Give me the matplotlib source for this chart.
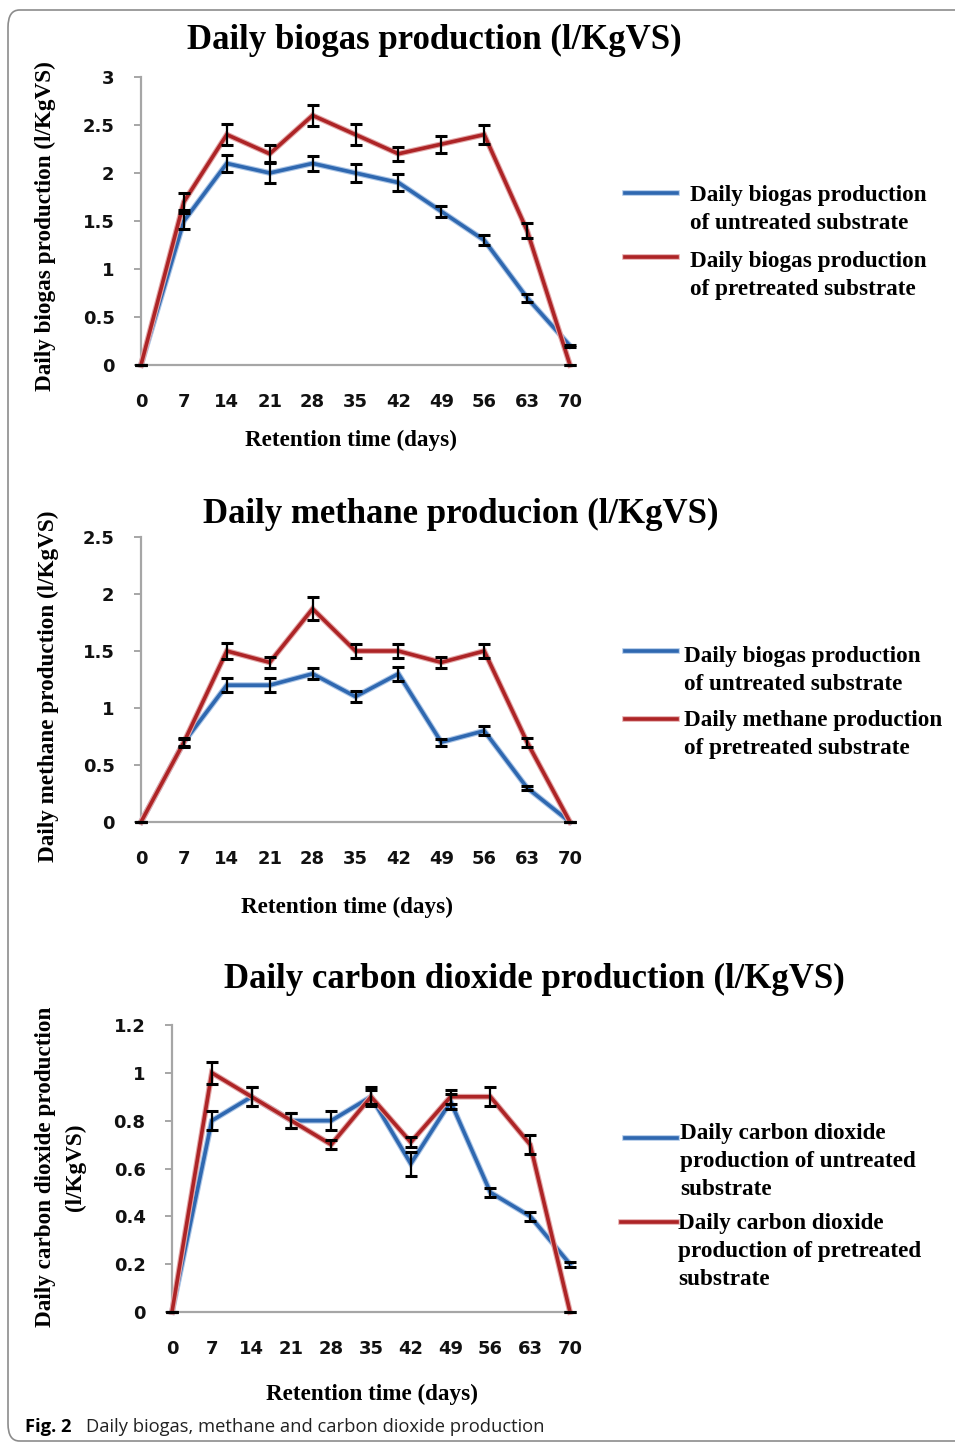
import matplotlib
matplotlib.use("Agg")
import matplotlib.pyplot as plt
import matplotlib.patheffects as pe
from matplotlib.lines import Line2D
from matplotlib.patches import FancyBboxPatch

# retention time (days)
days = [0, 7, 14, 21, 28, 35, 42, 49, 56, 63, 70]

# daily biogas (l/KgVS)
biogas_untreated = [0, 1.5, 2.1, 2.0, 2.1, 2.0, 1.9, 1.6, 1.3, 0.7, 0.2]
biogas_untreated_err = [0, 0.08, 0.09, 0.1, 0.08, 0.09, 0.09, 0.06, 0.05, 0.04, 0.01]
biogas_pretreated = [0, 1.7, 2.4, 2.2, 2.6, 2.4, 2.2, 2.3, 2.4, 1.4, 0]
biogas_pretreated_err = [0, 0.09, 0.11, 0.09, 0.11, 0.11, 0.07, 0.09, 0.1, 0.08, 0]

# daily methane (l/KgVS)
methane_untreated = [0, 0.7, 1.2, 1.2, 1.3, 1.1, 1.3, 0.7, 0.8, 0.3, 0]
methane_untreated_err = [0, 0.04, 0.06, 0.06, 0.05, 0.05, 0.06, 0.03, 0.04, 0.02, 0]
methane_pretreated = [0, 0.7, 1.5, 1.4, 1.87, 1.5, 1.5, 1.4, 1.5, 0.7, 0]
methane_pretreated_err = [0, 0.03, 0.07, 0.05, 0.1, 0.06, 0.06, 0.05, 0.06, 0.04, 0]

# daily carbon dioxide (l/KgVS)
co2_untreated = [0, 0.8, 0.9, 0.8, 0.8, 0.9, 0.62, 0.88, 0.5, 0.4, 0.2]
co2_untreated_err = [0, 0.04, 0.04, 0.03, 0.04, 0.03, 0.05, 0.03, 0.02, 0.02, 0.01]
co2_pretreated = [0, 1.0, 0.9, 0.8, 0.7, 0.9, 0.71, 0.9, 0.9, 0.7, 0]
co2_pretreated_err = [0, 0.045, 0.04, 0.03, 0.02, 0.04, 0.02, 0.03, 0.04, 0.04, 0]

BLUE = "#2f68b0"
BLUE_GLOW = "#a9c4e6"
RED = "#ad2426"
RED_GLOW = "#e3a7a8"
AXIS_GREY = "#a6a6a6"
SERIF = "Liberation Serif"
TICKFONT = "DejaVu Sans"
LABEL_SIZE = 16.7

W, H = 955, 1445
fig = plt.figure(figsize=(W / 100, H / 100), dpi=100)


def fx(px):
    return px / W


def fy(py):
    return 1 - py / H


def panel(rect_px, ymax, ystep, series, title, title_x, title_y,
          ylabel_lines, xlabel_x, xlabel_y, legend):
    left, top, right, bottom = rect_px
    ax = fig.add_axes([fx(left), fy(bottom), fx(right - left), (bottom - top) / H])
    for vals, errs, col, glow in series:
        ax.plot(days, vals, color=col, lw=2.6, solid_joinstyle="miter",
                path_effects=[pe.Stroke(linewidth=4.2, foreground=glow), pe.Normal()],
                zorder=2)
    for vals, errs, col, glow in series:
        ax.errorbar(days, vals, yerr=errs, fmt="none", ecolor="black",
                    elinewidth=1.6, capsize=4, capthick=2.2, zorder=3)
    ax.set_xlim(0, 70)
    ax.set_ylim(0, ymax)
    ax.set_xticks(days)
    ax.set_xticklabels([str(d) for d in days])
    nt = int(round(ymax / ystep))
    yt = [i * ystep for i in range(nt + 1)]
    ax.set_yticks(yt)
    ax.set_yticklabels(["0" if v == 0 else "%g" % round(v, 1) for v in yt])
    for s in ("top", "right"):
        ax.spines[s].set_visible(False)
    for s in ("left", "bottom"):
        ax.spines[s].set_color(AXIS_GREY)
        ax.spines[s].set_linewidth(1.6)
    ax.spines["left"].set_zorder(1)
    ax.tick_params(axis="y", length=5, width=1.4, color=AXIS_GREY, pad=14)
    ax.tick_params(axis="x", length=0, pad=20)
    for lab in ax.get_xticklabels() + ax.get_yticklabels():
        lab.set_fontfamily(TICKFONT)
        lab.set_fontweight("bold")
        lab.set_fontsize(13)
        lab.set_color("#111111")
    ax.patch.set_alpha(0)
    for p in ax.lines:
        p.set_clip_on(False)

    fig.text(fx(title_x), fy(title_y), title, ha="center", va="center",
             family=SERIF, weight="bold", fontsize=25)
    for txt, x_px, y_px in ylabel_lines:
        fig.text(fx(x_px), fy(y_px), txt, ha="center", va="center", rotation=90,
                 family=SERIF, weight="bold", fontsize=LABEL_SIZE)
    fig.text(fx(xlabel_x), fy(xlabel_y), "Retention time (days)", ha="center",
             va="center", family=SERIF, weight="bold", fontsize=LABEL_SIZE)
    for (x0, x1, ly), col, glow, (tx, ty), label in legend:
        fig.add_artist(Line2D([fx(x0), fx(x1)], [fy(ly), fy(ly)], color=col, lw=2.6,
                              path_effects=[pe.Stroke(linewidth=4, foreground=glow),
                                            pe.Normal()]))
        fig.text(fx(tx), fy(ty), label, ha="left", va="top", family=SERIF,
                 weight="bold", fontsize=LABEL_SIZE, linespacing=1.45)
    return ax


panel((141, 77, 570, 365), 3, 0.5,
      [(biogas_untreated, biogas_untreated_err, BLUE, BLUE_GLOW),
       (biogas_pretreated, biogas_pretreated_err, RED, RED_GLOW)],
      "Daily biogas production (l/KgVS)", 434, 40,
      [("Daily biogas production (l/KgVS)", 45, 226)],
      351, 440,
      [((625, 677, 193), BLUE, BLUE_GLOW, (690, 185),
        "Daily biogas production\nof untreated substrate"),
       ((625, 677, 257), RED, RED_GLOW, (690, 251),
        "Daily biogas production\nof pretreated substrate")])

panel((141, 537, 570, 822), 2.5, 0.5,
      [(methane_untreated, methane_untreated_err, BLUE, BLUE_GLOW),
       (methane_pretreated, methane_pretreated_err, RED, RED_GLOW)],
      "Daily methane producion (l/KgVS)", 461, 514,
      [("Daily methane production (l/KgVS)", 48, 686)],
      347, 907,
      [((625, 677, 651), BLUE, BLUE_GLOW, (684, 646),
        "Daily biogas production\nof untreated substrate"),
       ((625, 677, 719), RED, RED_GLOW, (684, 710),
        "Daily methane production\nof pretreated substrate")])

panel((172, 1025, 570, 1312), 1.2, 0.2,
      [(co2_untreated, co2_untreated_err, BLUE, BLUE_GLOW),
       (co2_pretreated, co2_pretreated_err, RED, RED_GLOW)],
      "Daily carbon dioxide production (l/KgVS)", 534, 979,
      [("Daily carbon dioxide production", 45, 1167),
       ("(l/KgVS)", 75, 1167)],
      372, 1394,
      [((625, 677, 1138), BLUE, BLUE_GLOW, (680, 1123),
        "Daily carbon dioxide\nproduction of untreated\nsubstrate"),
       ((621, 677, 1222), RED, RED_GLOW, (678, 1213),
        "Daily carbon dioxide\nproduction of pretreated\nsubstrate")])

# caption and frame
fig.text(fx(25), fy(1427), "Fig. 2", ha="left", va="center", family="Open Sans",
         weight="bold", fontsize=13.2)
fig.text(fx(86), fy(1427), "Daily biogas, methane and carbon dioxide production",
         ha="left", va="center", family="Open Sans", fontsize=13.2, color="#222222")
fig.add_artist(FancyBboxPatch((fx(8), fy(1441)), fx(970 - 8), (1441 - 10) / H,
                              boxstyle="round,pad=0,rounding_size=0.012",
                              transform=fig.transFigure, fill=False,
                              edgecolor="#8c8c8c", lw=1.2))

fig.savefig("out.png", dpi=100)
